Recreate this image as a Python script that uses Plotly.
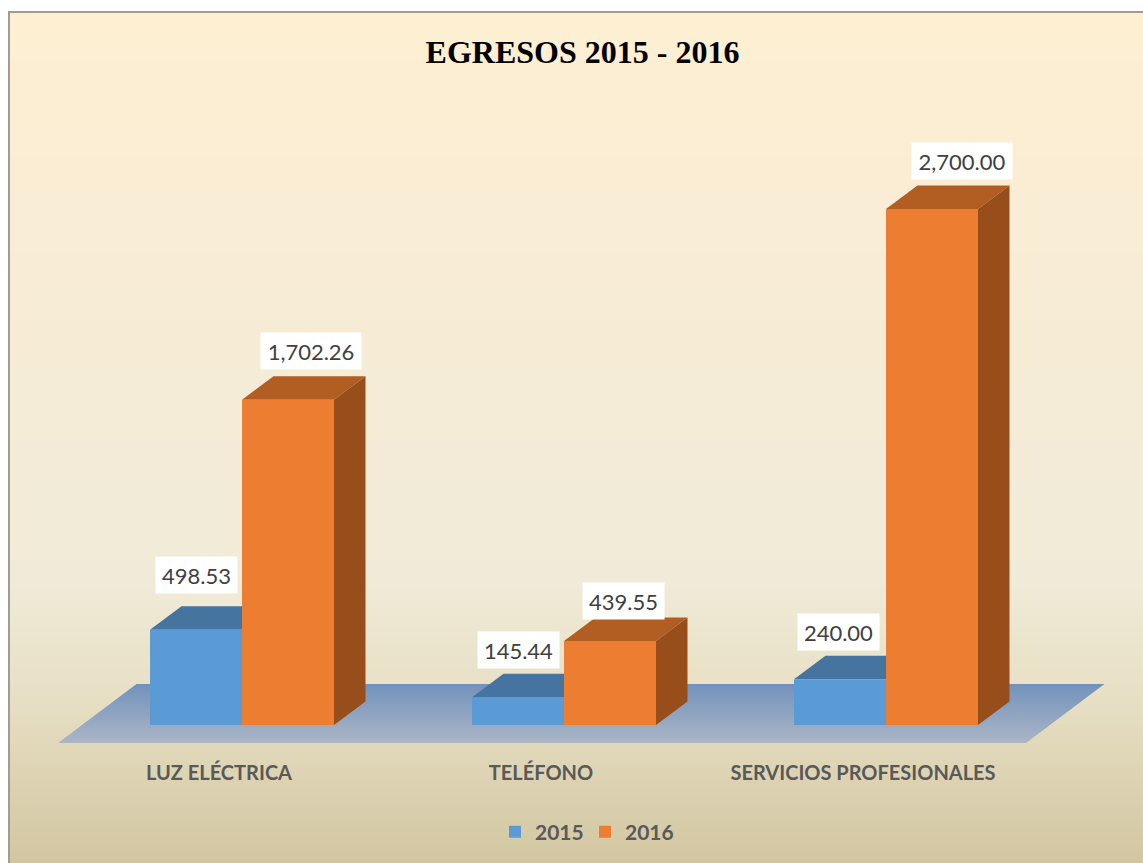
import plotly.graph_objects as go

# ---- data ----
categories = ["LUZ ELÉCTRICA", "TELÉFONO", "SERVICIOS PROFESIONALES"]
values_2015 = [498.53, 145.44, 240.00]
values_2016 = [1702.26, 439.55, 2700.00]
series_names = ["2015", "2016"]
title_text = "EGRESOS 2015 - 2016"

# ---- styles / layout ----
W, H = 1143, 863
PLOT_BOTTOM = 750
PX_PER_X = 322.0
PX_PER_Y = 516 / 2700.0
X0_PX = 219.0
BASE_PX = 725.0

BAR_W = 92 / PX_PER_X
OFFSET_2015 = -69 / PX_PER_X
OFFSET_2016 = 23 / PX_PER_X
DEPTH_X = 31.5 / PX_PER_X
DEPTH_Y = 23.5 / PX_PER_Y

FRONT = {"2015": "#5B9BD5", "2016": "#ED7D31"}
TOP = {"2015": "#44749F", "2016": "#B25E22"}
SIDE = {"2015": "#375F85", "2016": "#974E1B"}

# label nudges in pixels, per series and category
shift_x_2015 = [0, 0, -2]
shift_y_2015 = [55, 47, 47]
shift_x_2016 = [23, 13, 30]
shift_y_2016 = [49, 40, 48]

FONT = "Lato, 'Open Sans', sans-serif"
TEXT_COL = "#595959"


def lerp_col(a, b, t):
    return tuple(a[i] + (b[i] - a[i]) * t for i in range(3))


BG_STOPS = [
    (12, (254, 239, 210)),
    (300, (247, 236, 214)),
    (580, (240, 235, 216)),
    (700, (231, 223, 196)),
    (863, (210, 198, 161)),
]


def bg_color(py):
    for (y0, c0), (y1, c1) in zip(BG_STOPS, BG_STOPS[1:]):
        if py <= y1:
            c = lerp_col(c0, c1, (py - y0) / (y1 - y0))
            return "rgb(%d,%d,%d)" % tuple(round(v) for v in c)
    return "rgb(210,198,161)"


def paper_y(py):
    return (PLOT_BOTTOM - py) / PLOT_BOTTOM


shapes = []
STEP = 4
for py in range(12, H, STEP):
    shapes.append(dict(type="rect", layer="below", xref="paper", yref="paper",
                       x0=8 / W, x1=1, y0=paper_y(py + STEP + 1), y1=paper_y(py),
                       fillcolor=bg_color(py + STEP / 2), line_width=0))
shapes.append(dict(type="line", layer="below", xref="paper", yref="paper",
                   x0=9 / W, x1=9 / W, y0=paper_y(H), y1=paper_y(11.5),
                   line=dict(color="#A09C94", width=2)))
shapes.append(dict(type="line", layer="below", xref="paper", yref="paper",
                   x0=8 / W, x1=1, y0=paper_y(12), y1=paper_y(12),
                   line=dict(color="#A09C94", width=2)))

fig = go.Figure()

# floor
floor_dx = 78.5 / PX_PER_X
floor_dy = 59 / PX_PER_Y
floor_y0 = -18 / PX_PER_Y
floor_l = -0.5
floor_r = floor_l + 968 / PX_PER_X
fig.add_trace(go.Scatter(
    x=[floor_l, floor_r, floor_r + floor_dx, floor_l + floor_dx, floor_l],
    y=[floor_y0, floor_y0, floor_y0 + floor_dy, floor_y0 + floor_dy, floor_y0],
    mode="lines", line=dict(width=0), fill="toself",
    fillgradient=dict(type="vertical",
                      colorscale=[[0, "#ABB5C5"], [1, "#7292BC"]]),
    showlegend=False, hoverinfo="skip", zorder=0))

positions = list(range(len(categories)))
all_series = [("2015", values_2015, OFFSET_2015), ("2016", values_2016, OFFSET_2016)]

z = 1
for name, values, offset in all_series:
    for pos, v in zip(positions, values):
        left = pos + offset
        right = left + BAR_W
        # top face
        fig.add_trace(go.Scatter(
            x=[left, right, right + DEPTH_X, left + DEPTH_X, left],
            y=[v, v, v + DEPTH_Y, v + DEPTH_Y, v],
            mode="lines", line=dict(width=0), fill="toself", fillcolor=TOP[name],
            showlegend=False, hoverinfo="skip", zorder=z))
        # side face
        fig.add_trace(go.Scatter(
            x=[right, right + DEPTH_X, right + DEPTH_X, right, right],
            y=[0, DEPTH_Y, v + DEPTH_Y, v, 0],
            mode="lines", line=dict(width=0), fill="toself", fillcolor=SIDE[name],
            showlegend=False, hoverinfo="skip", zorder=z))
    fig.add_trace(go.Bar(
        x=positions, y=values, name=name, width=BAR_W, offset=offset,
        marker=dict(color=FRONT[name], line=dict(width=0)), zorder=z + 1))
    z += 2

# data labels
annotations = []
for values, offset, sx, sy in [
    (values_2015, OFFSET_2015, shift_x_2015, shift_y_2015),
    (values_2016, OFFSET_2016, shift_x_2016, shift_y_2016),
]:
    for pos, v, dx, dy in zip(positions, values, sx, sy):
        txt = f"{v:,.2f}"
        annotations.append(dict(
            x=pos + offset + BAR_W / 2, y=v, xref="x", yref="y",
            text=txt, showarrow=False, xanchor="center", yanchor="middle",
            xshift=dx, yshift=dy, bgcolor="#FFFFFF",
            width=98 if len(txt) > 6 else 79, height=34, align="center",
            font=dict(family=FONT, size=22, color="#404040")))

fig.update_layout(
    width=W, height=H, autosize=False,
    margin=dict(l=0, r=0, t=0, b=H - PLOT_BOTTOM, pad=0),
    paper_bgcolor="#FFFFFF", plot_bgcolor="rgba(0,0,0,0)",
    barmode="overlay",
    title=dict(text=f"<b>{title_text}</b>", x=582.5 / W, y=1 - 52 / H,
               xanchor="center", yanchor="middle",
               font=dict(family="'Liberation Serif', serif", size=32, color="#000000")),
    xaxis=dict(range=[-X0_PX / PX_PER_X, (W - X0_PX) / PX_PER_X],
               tickmode="array", tickvals=positions, ticktext=categories,
               showgrid=False, zeroline=False, showline=False,
               ticks="outside", ticklen=5, tickcolor="rgba(0,0,0,0)",
               tickfont=dict(family=FONT, size=20, color=TEXT_COL, weight="bold"),
               fixedrange=True),
    yaxis=dict(range=[(BASE_PX - PLOT_BOTTOM) / PX_PER_Y, BASE_PX / PX_PER_Y],
               visible=False, showgrid=False, zeroline=False, fixedrange=True),
    legend=dict(orientation="h", x=585 / W, xanchor="center",
                y=(PLOT_BOTTOM - 832) / PLOT_BOTTOM, yanchor="middle",
                bgcolor="rgba(0,0,0,0)",
                font=dict(family=FONT, size=21, color=TEXT_COL, weight="bold"),
                itemwidth=30, entrywidth=45, entrywidthmode="pixels"),
    shapes=shapes, annotations=annotations,
)

fig.write_html("out.html",
               config={"displayModeBar": False},
               post_script="document.body.style.margin='0';document.body.style.overflow='hidden';")
